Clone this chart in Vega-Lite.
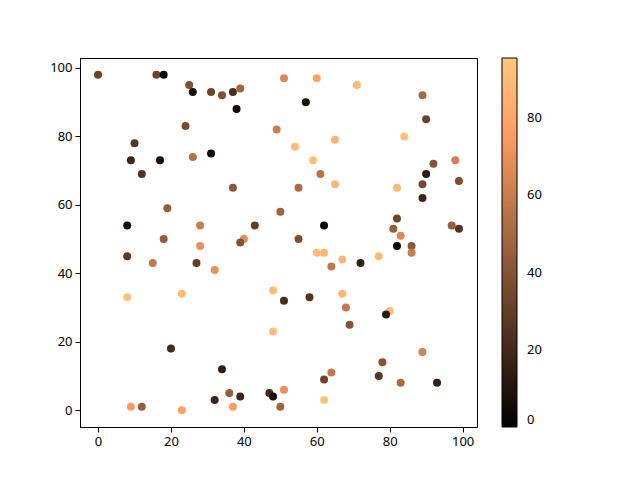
{
  "$schema": "https://vega.github.io/schema/vega-lite/v6.json",
  "width": 397,
  "height": 369,
  "autosize": "none",
  "padding": {"left": 80, "top": 58, "right": 163, "bottom": 53},
  "background": "white",
  "config": {
    "view": {"stroke": "black", "strokeWidth": 1},
    "font": "Noto Sans",
    "axis": {"grid": false, "domainColor": "black", "tickColor": "black", "tickSize": 5, "labelFont": "Noto Sans", "labelFontSize": 13, "labelColor": "black", "labelPadding": 3}
  },
  "data": {"values": [
    {"x": 0, "y": 98, "c": 32}, {"x": 16, "y": 98, "c": 32}, {"x": 18, "y": 98, "c": 3},
    {"x": 25, "y": 95, "c": 38}, {"x": 26, "y": 93, "c": 8}, {"x": 31, "y": 93, "c": 32},
    {"x": 34, "y": 92, "c": 38}, {"x": 37, "y": 93, "c": 22}, {"x": 39, "y": 94, "c": 48},
    {"x": 38, "y": 88, "c": 4}, {"x": 24, "y": 83, "c": 35}, {"x": 10, "y": 78, "c": 25},
    {"x": 9, "y": 73, "c": 18}, {"x": 17, "y": 73, "c": 8}, {"x": 26, "y": 74, "c": 55},
    {"x": 31, "y": 75, "c": 2}, {"x": 12, "y": 69, "c": 25},
    {"x": 51, "y": 97, "c": 65}, {"x": 60, "y": 97, "c": 78}, {"x": 57, "y": 90, "c": 8},
    {"x": 49, "y": 82, "c": 60}, {"x": 54, "y": 77, "c": 90}, {"x": 65, "y": 79, "c": 86},
    {"x": 59, "y": 73, "c": 92}, {"x": 61, "y": 69, "c": 55},
    {"x": 71, "y": 95, "c": 88}, {"x": 89, "y": 92, "c": 50}, {"x": 90, "y": 85, "c": 33},
    {"x": 84, "y": 80, "c": 92}, {"x": 92, "y": 72, "c": 40}, {"x": 98, "y": 73, "c": 62},
    {"x": 90, "y": 69, "c": 12}, {"x": 99, "y": 67, "c": 38}, {"x": 89, "y": 66, "c": 35},
    {"x": 19, "y": 59, "c": 45}, {"x": 8, "y": 54, "c": 8}, {"x": 28, "y": 54, "c": 60},
    {"x": 18, "y": 50, "c": 45}, {"x": 28, "y": 48, "c": 70}, {"x": 8, "y": 45, "c": 28},
    {"x": 15, "y": 43, "c": 58}, {"x": 27, "y": 43, "c": 30}, {"x": 8, "y": 33, "c": 93},
    {"x": 23, "y": 34, "c": 90},
    {"x": 37, "y": 65, "c": 42}, {"x": 55, "y": 65, "c": 52}, {"x": 65, "y": 66, "c": 88},
    {"x": 50, "y": 58, "c": 48}, {"x": 43, "y": 54, "c": 30}, {"x": 62, "y": 54, "c": 5},
    {"x": 40, "y": 50, "c": 68}, {"x": 39, "y": 49, "c": 40}, {"x": 55, "y": 50, "c": 38},
    {"x": 60, "y": 46, "c": 90}, {"x": 62, "y": 46, "c": 88}, {"x": 64, "y": 42, "c": 58},
    {"x": 32, "y": 41, "c": 70}, {"x": 48, "y": 35, "c": 90}, {"x": 51, "y": 32, "c": 22},
    {"x": 58, "y": 33, "c": 25}, {"x": 67, "y": 44, "c": 88},
    {"x": 82, "y": 65, "c": 90}, {"x": 89, "y": 62, "c": 18}, {"x": 82, "y": 56, "c": 33},
    {"x": 97, "y": 54, "c": 45}, {"x": 99, "y": 53, "c": 25}, {"x": 81, "y": 53, "c": 45},
    {"x": 83, "y": 51, "c": 66}, {"x": 82, "y": 48, "c": 2}, {"x": 86, "y": 48, "c": 42},
    {"x": 86, "y": 46, "c": 60}, {"x": 77, "y": 45, "c": 90}, {"x": 72, "y": 43, "c": 15},
    {"x": 67, "y": 34, "c": 88},
    {"x": 20, "y": 18, "c": 20}, {"x": 9, "y": 1, "c": 75}, {"x": 12, "y": 1, "c": 45},
    {"x": 23, "y": 0, "c": 78},
    {"x": 48, "y": 23, "c": 90}, {"x": 34, "y": 12, "c": 15}, {"x": 32, "y": 3, "c": 18},
    {"x": 36, "y": 5, "c": 45}, {"x": 39, "y": 4, "c": 18}, {"x": 37, "y": 1, "c": 75},
    {"x": 47, "y": 5, "c": 20}, {"x": 48, "y": 4, "c": 6}, {"x": 51, "y": 6, "c": 70},
    {"x": 50, "y": 1, "c": 48}, {"x": 62, "y": 9, "c": 32}, {"x": 64, "y": 11, "c": 58},
    {"x": 62, "y": 3, "c": 93},
    {"x": 68, "y": 30, "c": 58}, {"x": 80, "y": 29, "c": 90}, {"x": 79, "y": 28, "c": 12},
    {"x": 69, "y": 25, "c": 40}, {"x": 89, "y": 17, "c": 62}, {"x": 78, "y": 14, "c": 40},
    {"x": 77, "y": 10, "c": 25}, {"x": 83, "y": 8, "c": 50}, {"x": 93, "y": 8, "c": 15}
  ]},
  "mark": {"type": "point", "shape": "circle", "filled": true, "opacity": 1, "size": 64},
  "encoding": {
    "x": {"field": "x", "type": "quantitative", "title": null,
          "scale": {"domain": [-4.95, 103.95], "nice": false, "zero": false},
          "axis": {"values": [0, 20, 40, 60, 80, 100]}},
    "y": {"field": "y", "type": "quantitative", "title": null,
          "scale": {"domain": [-4.9, 102.9], "nice": false, "zero": false},
          "axis": {"values": [0, 20, 40, 60, 80, 100]}},
    "color": {"field": "c", "type": "quantitative", "title": null,
              "scale": {"domain": [0, 76.5, 95.6], "range": ["#000000", "#ff9f65", "#ffc77f"], "interpolate": "rgb", "nice": false, "zero": false},
              "legend": {"orient": "none", "legendX": 422, "legendY": 0, "direction": "vertical",
                         "gradientLength": 369, "gradientThickness": 15,
                         "gradientStrokeColor": "black", "gradientStrokeWidth": 1,
                         "values": [0, 20, 40, 60, 80], "labelFont": "Noto Sans", "labelFontSize": 13, "labelColor": "black",
                         "labelOffset": 10, "labelOverlap": false,
                         "encode": {"labels": {"update": {"dy": {"signal": "datum.value === 0 ? 7 : 0"}}}}}}
  }
}
